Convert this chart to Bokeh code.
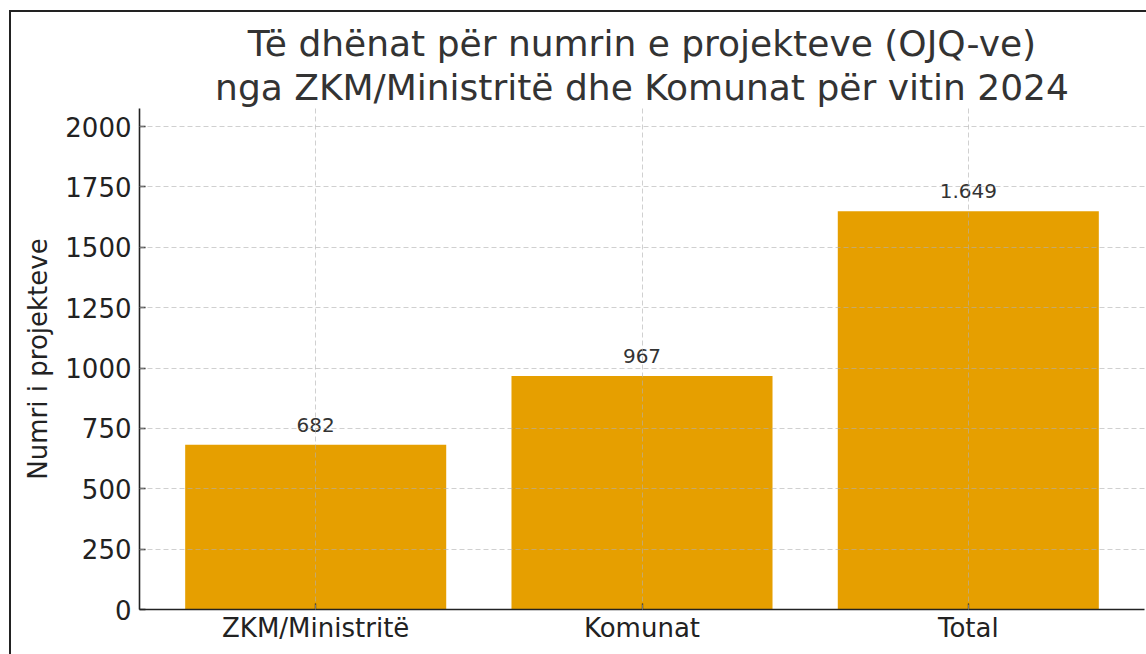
from bokeh.plotting import figure
from bokeh.models import Range1d, FixedTicker, Title, ColumnDataSource, LabelSet
from bokeh.layouts import column
from bokeh.core.properties import value
from bokeh.embed import file_html
from bokeh.resources import INLINE

categories = ["ZKM/Ministritë", "Komunat", "Total"]
values = [682, 967, 1649]
value_labels = ["682", "967", "1.649"]
y_ticks = [0, 250, 500, 750, 1000, 1250, 1500, 1750, 2000]
title_lines = ["Të dhënat për numrin e projekteve (OJQ-ve)",
               "nga ZKM/Ministritë dhe Komunat për vitin 2024"]
y_label = "Numri i projekteve"

FONT = "DejaVu Sans"
BAR = "#E69F00"

xs = list(range(len(categories)))
src = ColumnDataSource(dict(x=xs, top=values, lab=value_labels,
                            ly=[v + 54 for v in values]))

p = figure(width=1135, height=642, output_backend="svg", toolbar_location=None,
           x_range=Range1d(-0.54, 2.54), y_range=Range1d(0, 2075),
           min_border_left=128, min_border_right=2, min_border_bottom=45,
           min_border_top=96)
p.outline_line_color = None
p.background_fill_color = "white"
p.border_fill_color = "white"

p.vbar(x="x", top="top", width=0.8, source=src, color=BAR, line_color=None)

labels = LabelSet(x="x", y="ly", text="lab", source=src, text_align="center",
                  text_baseline="bottom", text_font=value(FONT),
                  text_font_size="20px", text_color="#333333")
p.add_layout(labels)

# Titles (second line added first so it sits closest to the plot)
for line, so in zip(reversed(title_lines), (2, 0)):
    t = Title(text=line, align="center", text_font=FONT, text_font_size="36px",
              text_font_style="normal", text_color="#333333", standoff=so)
    p.add_layout(t, "above")

for ax in (p.xaxis[0], p.yaxis[0]):
    ax.major_label_text_font = FONT
    ax.major_label_text_font_size = "26px"
    ax.major_label_text_color = "#222222"
    ax.axis_line_color = "#222222"
    ax.axis_line_width = 1.6
    ax.major_tick_in = 6
    ax.major_tick_out = 0
    ax.major_tick_line_color = "#222222"
    ax.major_tick_line_width = 1.3
    ax.minor_tick_line_color = None

p.yaxis.major_label_standoff = 8
p.xaxis.major_label_standoff = 3
p.xaxis.ticker = FixedTicker(ticks=xs)
p.xaxis.major_label_overrides = {i: c for i, c in enumerate(categories)}
p.yaxis.ticker = FixedTicker(ticks=y_ticks)
p.yaxis.axis_label = y_label
p.yaxis.axis_label_text_font = FONT
p.yaxis.axis_label_text_font_size = "26px"
p.yaxis.axis_label_text_font_style = "normal"
p.yaxis.axis_label_text_color = "#222222"
p.yaxis.axis_label_standoff = 9

for g in (p.xgrid[0], p.ygrid[0]):
    g.grid_line_color = "#b0b0b0"
    g.grid_line_alpha = 0.6
    g.grid_line_dash = "5 3"
    g.grid_line_width = 1
    g.level = "overlay"
p.xgrid.ticker = FixedTicker(ticks=xs)

layout = column(p, styles={"border-left": "2px solid #222222",
                           "border-top": "2px solid #222222",
                           "margin-left": "9px", "margin-top": "10px"})

open("out.html", "w").write(file_html(layout, INLINE))
